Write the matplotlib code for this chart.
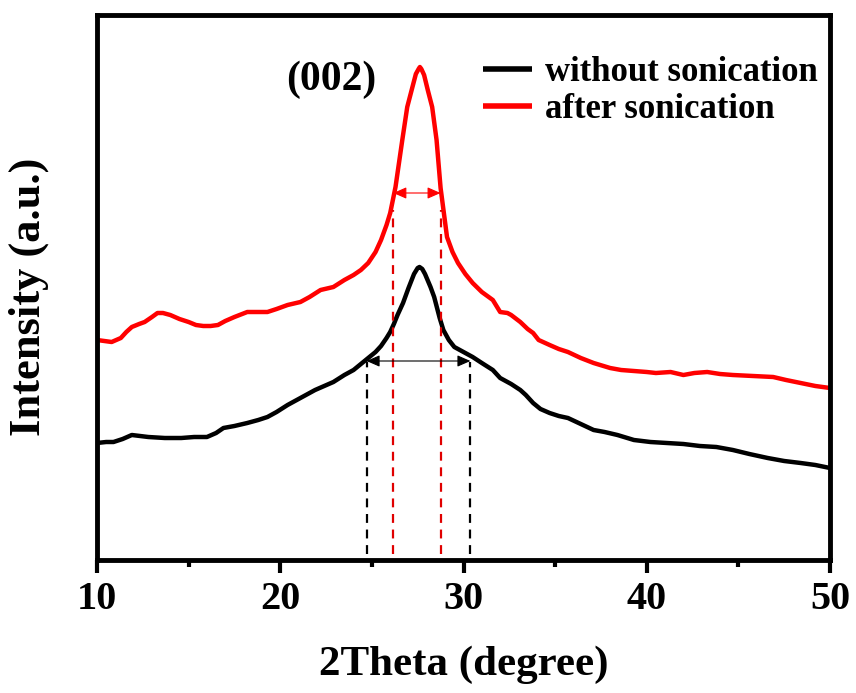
import matplotlib
matplotlib.use("Agg")
import matplotlib.pyplot as plt
from matplotlib.ticker import MultipleLocator

plt.rcParams['font.family'] = ['Liberation Serif', 'DejaVu Serif']
plt.rcParams['font.weight'] = 'bold'

# ---- data (2theta in degree, intensity in a.u.) ----
x_without = [10.0, 10.5, 10.9, 11.4, 11.9, 12.8, 13.7, 14.6, 15.3, 16.0, 16.5, 16.9, 17.5, 18.2,
             18.8, 19.3, 19.8, 20.4, 21.1, 21.9, 22.4, 22.9, 23.5, 24.0, 24.4, 24.8, 25.2,
             25.5, 25.8, 26.0, 26.2, 26.4, 26.7, 27.0, 27.3, 27.5, 27.6, 27.75, 27.9, 28.2,
             28.4, 28.7, 28.9, 29.2, 29.5, 30.0, 30.5, 31.0, 31.6, 32.0, 32.6, 33.1, 33.4,
             33.8, 34.2, 34.7, 35.2, 35.7, 36.4, 37.1, 37.7, 38.4, 39.3, 40.2, 41.1, 42.0,
             42.9, 43.8, 44.7, 45.6, 46.6, 47.5, 48.4, 49.2, 50.0]
y_without = [117, 118, 118, 121, 125, 123, 122, 122, 123, 123, 127, 132, 134, 137,
             140, 143, 148, 155, 162, 170, 174, 178, 185, 190, 196, 202, 208,
             214, 222, 228, 236, 245, 257, 272, 286, 292, 293, 291, 286, 273,
             263, 242, 230, 220, 213, 208, 203, 197, 190, 182, 176, 170, 165,
             157, 151, 147, 144, 142, 136, 130, 128, 125, 120, 118, 117, 116,
             114, 113, 110, 106, 102, 99, 97, 95, 92]

x_after = [10.0, 10.4, 10.8, 11.3, 11.6, 11.9, 12.3, 12.6, 13.0, 13.3, 13.6, 14.0, 14.5, 15.0,
           15.4, 15.8, 16.2, 16.6, 17.0, 17.5, 18.2, 18.8, 19.3, 19.8, 20.4, 21.1, 21.6,
           22.2, 22.9, 23.5, 24.0, 24.4, 24.8, 25.2, 25.5, 25.8, 26.0, 26.29, 26.66, 26.93,
           27.2, 27.4, 27.55, 27.62, 27.7, 27.85, 28.05, 28.29, 28.53, 28.75, 29.1, 29.4,
           29.7, 30.1, 30.5, 31.0, 31.6, 32.0, 32.4, 32.6, 33.1, 33.5, 33.8, 34.1, 34.7,
           35.2, 35.7, 36.4, 37.1, 38.0, 38.6, 39.3, 40.0, 40.5, 41.3, 42.0, 42.6, 43.3,
           44.0, 44.7, 45.8, 46.9, 47.6, 48.4, 49.2, 50.0]
y_after = [220, 219, 218, 222, 228, 233, 236, 238, 243, 247, 247, 245, 241, 238,
           235, 234, 234, 235, 239, 243, 248, 248, 248, 251, 255, 258, 263,
           270, 273, 280, 285, 290, 297, 308, 320, 335, 347, 373, 420, 453,
           472, 486, 491, 493, 491, 485, 470, 453, 420, 372, 323, 308,
           297, 286, 277, 268, 260, 248, 247, 245, 238, 231, 227, 220, 215,
           211, 208, 202, 197, 192, 190, 189, 188, 187, 188, 185, 187, 188,
           186, 185, 184, 183, 180, 177, 174, 172]

# FWHM markers: (left, right, arrow height, dashed-line top)
fwhm_without = [24.71, 30.38, 199, 198]
fwhm_after = [26.17, 28.75, 367, 350]

labels = ["without sonication", "after sonication"]

fig = plt.figure(figsize=(8.56, 6.93), dpi=100)
ax = fig.add_axes([97/856, 1 - 560/693, (830 - 97)/856, (560 - 15)/693])

ax.plot(x_without, y_without, color='black', lw=3.2, label=labels[0],
        solid_joinstyle='round', solid_capstyle='butt')
ax.plot(x_after, y_after, color='#ff0000', lw=3.2, label=labels[1],
        solid_joinstyle='round', solid_capstyle='butt')

# dashed vertical lines
for xv in fwhm_without[:2]:
    ax.plot([xv, xv], [6, fwhm_without[3]], color='black', ls=(0, (4, 3)), lw=1.6)
for xv in fwhm_after[:2]:
    ax.plot([xv, xv], [6, fwhm_after[3]], color='#e00000', ls=(0, (4, 3)), lw=1.6)

# double arrows
ax.annotate('', xy=(fwhm_without[0], fwhm_without[2]), xytext=(fwhm_without[1], fwhm_without[2]),
            arrowprops=dict(arrowstyle='<|-|>,head_length=0.8,head_width=0.35', color='black',
                            lw=0.8, shrinkA=0, shrinkB=0))
ax.annotate('', xy=(fwhm_after[0], fwhm_after[2]), xytext=(fwhm_after[1], fwhm_after[2]),
            arrowprops=dict(arrowstyle='<|-|>,head_length=0.8,head_width=0.35', color='#ff0000',
                            lw=0.8, shrinkA=0, shrinkB=0))

ax.text(22.8, 480, '(002)', fontsize=30, fontweight='bold', ha='center', va='center')

ax.set_xlim(10, 50)
ax.set_ylim(0, 545)
ax.set_yticks([])
ax.xaxis.set_major_locator(MultipleLocator(10))
ax.xaxis.set_minor_locator(MultipleLocator(5))
ax.tick_params(axis='x', which='major', direction='out', length=9, width=3, labelsize=29, pad=6)
ax.tick_params(axis='x', which='minor', direction='out', length=5, width=3)
for lab in ax.get_xticklabels():
    lab.set_fontweight('bold')
for s in ax.spines.values():
    s.set_linewidth(3.5)

ax.set_xlabel('2Theta (degree)', fontsize=31, fontweight='bold', labelpad=20)
ax.set_ylabel('Intensity (a.u.)', fontsize=32, fontweight='bold')
ax.yaxis.set_label_coords(-0.065, 0.483)

leg = ax.legend(loc='upper left', bbox_to_anchor=(0.527, 0.925), frameon=False,
                handlelength=1.4, handletextpad=0.37, labelspacing=0.12,
                borderaxespad=0, borderpad=0, prop={'weight': 'bold', 'size': 25})
for h in leg.get_lines():
    h.set_linewidth(4)

fig.savefig('out.png', dpi=100)
